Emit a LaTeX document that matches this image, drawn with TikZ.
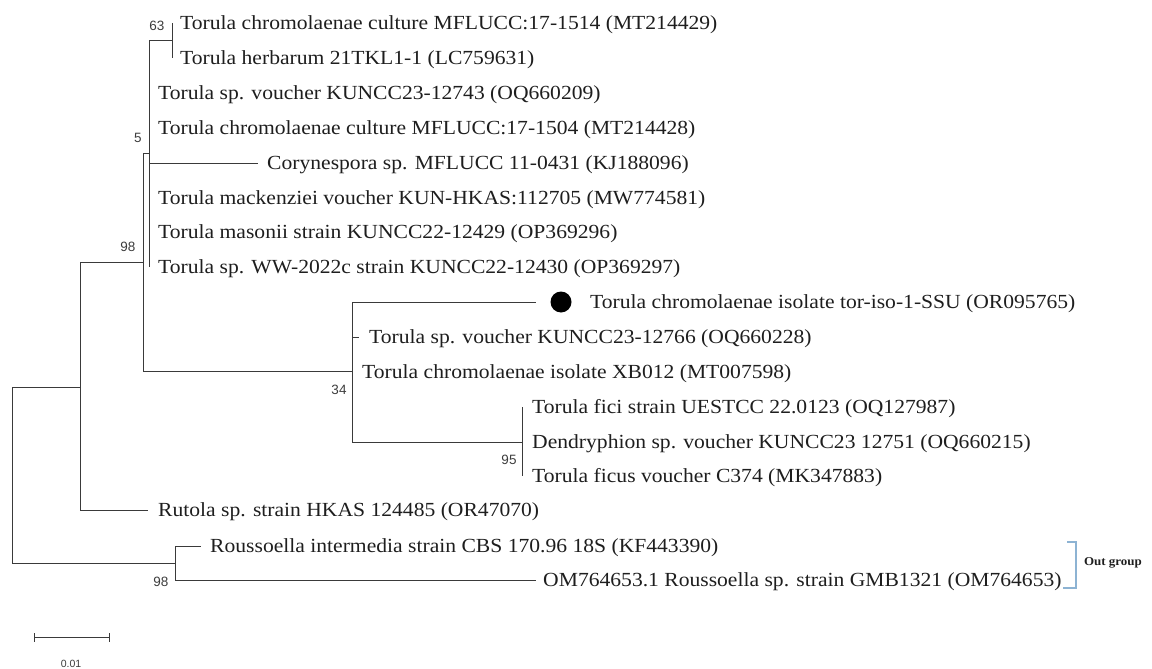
\documentclass[tikz,border=0pt]{standalone}
\usepackage{fontspec}
\setmainfont{Liberation Serif}[FakeStretch=1.08]
\newfontfamily\numfont{Liberation Sans}
\definecolor{linecol}{HTML}{3A3A3A}
\definecolor{txtcol}{HTML}{1E1E1E}
\definecolor{bootcol}{HTML}{3C3C3C}
\definecolor{brackcol}{HTML}{8DB3D3}
\begin{document}
\begin{tikzpicture}[x=1pt,y=-1pt,
  branch/.style={draw=linecol,line width=0.95pt},
  taxon/.style={anchor=base west,inner sep=0pt,text=txtcol,font=\fontsize{20}{24}\selectfont},
  boot/.style={anchor=center,inner sep=0pt,text=bootcol,font=\numfont\fontsize{13.5}{15}\selectfont},
  outlab/.style={anchor=center,inner sep=0pt,text=txtcol,font=\bfseries\fontsize{12}{14}\selectfont},
  scalelab/.style={anchor=center,inner sep=0pt,text=bootcol,font=\numfont\fontsize{10.5}{12}\selectfont}]
\useasboundingbox (0,0) rectangle (1152,669);
% internal nodes
\coordinate (R) at (12,475);
\coordinate (A) at (80,387);
\coordinate (B) at (143,262);
\coordinate (C) at (149,153);
\coordinate (D) at (172,40);
\coordinate (E) at (352,371);
\coordinate (F) at (522,442);
\coordinate (G) at (175,563);
% leaf tips
\coordinate (t1) at (172,23);
\coordinate (t2) at (172,58);
\coordinate (t3) at (149,93);
\coordinate (t4) at (149,128);
\coordinate (t5) at (258,163);
\coordinate (t6) at (149,198);
\coordinate (t7) at (149,232);
\coordinate (t8) at (149,267);
\coordinate (t9) at (536,302);
\coordinate (t10) at (359,337);
\coordinate (t11) at (352,372);
\coordinate (t12) at (522,407);
\coordinate (t13) at (522,442);
\coordinate (t14) at (522,476);
\coordinate (t15) at (148,510);
\coordinate (t16) at (201,546);
\coordinate (t17) at (536,580);
% branches
\draw[branch] (R) |- (A);
\draw[branch] (R) |- (G);
\draw[branch] (A) |- (B);
\draw[branch] (A) |- (t15);
\draw[branch] (B) |- (C);
\draw[branch] (B) |- (E);
\draw[branch] (C) |- (D);
\draw[branch] (C) |- (t3);
\draw[branch] (C) |- (t4);
\draw[branch] (C) |- (t5);
\draw[branch] (C) |- (t6);
\draw[branch] (C) |- (t7);
\draw[branch] (C) |- (t8);
\draw[branch] (D) |- (t1);
\draw[branch] (D) |- (t2);
\draw[branch] (E) |- (t9);
\draw[branch] (E) |- (t10);
\draw[branch] (E) |- (t11);
\draw[branch] (E) |- (F);
\draw[branch] (F) |- (t12);
\draw[branch] (F) |- (t13);
\draw[branch] (F) |- (t14);
\draw[branch] (G) |- (t16);
\draw[branch] (G) |- (t17);
% taxa
\node[taxon] (l1) at (180,29.6) {Torula chromolaenae culture MFLUCC:17-1514 (MT214429)};
\node[taxon] (l2) at (180,64.6) {Torula herbarum 21TKL1-1 (LC759631)};
\node[taxon] (l3) at (158,99.6) {Torula sp. voucher KUNCC23-12743 (OQ660209)};
\node[taxon] (l4) at (158,134.6) {Torula chromolaenae culture MFLUCC:17-1504 (MT214428)};
\node[taxon] (l5) at (267,169.6) {Corynespora sp. MFLUCC 11-0431 (KJ188096)};
\node[taxon] (l6) at (158,204.6) {Torula mackenziei voucher KUN-HKAS:112705 (MW774581)};
\node[taxon] (l7) at (158,238.6) {Torula masonii strain KUNCC22-12429 (OP369296)};
\node[taxon] (l8) at (158,273.6) {Torula sp. WW-2022c strain KUNCC22-12430 (OP369297)};
\node[circle,fill=black,inner sep=0pt,minimum size=21pt] (dot) at (561,302) {};
\node[taxon] (l9) at (590,308.6) {Torula chromolaenae isolate tor-iso-1-SSU (OR095765)};
\node[taxon] (l10) at (369,343.6) {Torula sp. voucher KUNCC23-12766 (OQ660228)};
\node[taxon] (l11) at (362,378.6) {Torula chromolaenae isolate XB012 (MT007598)};
\node[taxon] (l12) at (532,413.6) {Torula fici strain UESTCC 22.0123 (OQ127987)};
\node[taxon] (l13) at (532,448.6) {Dendryphion sp. voucher KUNCC23 12751 (OQ660215)};
\node[taxon] (l14) at (532,482.6) {Torula ficus voucher C374 (MK347883)};
\node[taxon] (l15) at (158,516.6) {Rutola sp. strain HKAS 124485 (OR47070)};
\node[taxon] (l16) at (210,552.6) {Roussoella intermedia strain CBS 170.96 18S (KF443390)};
\node[taxon] (l17) at (543,586.6) {OM764653.1 Roussoella sp. strain GMB1321 (OM764653)};
% bootstrap values
\node[boot] (b63) at (157,26) {63};
\node[boot] (b5) at (138,138) {5};
\node[boot] (b98a) at (128,247) {98};
\node[boot] (b34) at (339,390) {34};
\node[boot] (b95) at (509,460) {95};
\node[boot] (b98b) at (161,582) {98};
% out group bracket
\coordinate (k1) at (1063,588);
\coordinate (k2) at (1076,588);
\coordinate (k3) at (1076,542);
\coordinate (k4) at (1067,542);
\draw[draw=brackcol,line width=1.1pt] (k1) -- (k2) -- (k3) -- (k4);
\node[outlab] (og) at (1113,563) {Out group};
% scale bar
\coordinate (s1) at (34,637);
\coordinate (s2) at (109,637);
\draw[branch] (s1) -- (s2);
\draw[branch] ([yshift=-4.5pt]s1) -- ([yshift=4.5pt]s1);
\draw[branch] ([yshift=-4.5pt]s2) -- ([yshift=4.5pt]s2);
\node[scalelab] (sl) at (71,664) {0.01};
\end{tikzpicture}
\end{document}
